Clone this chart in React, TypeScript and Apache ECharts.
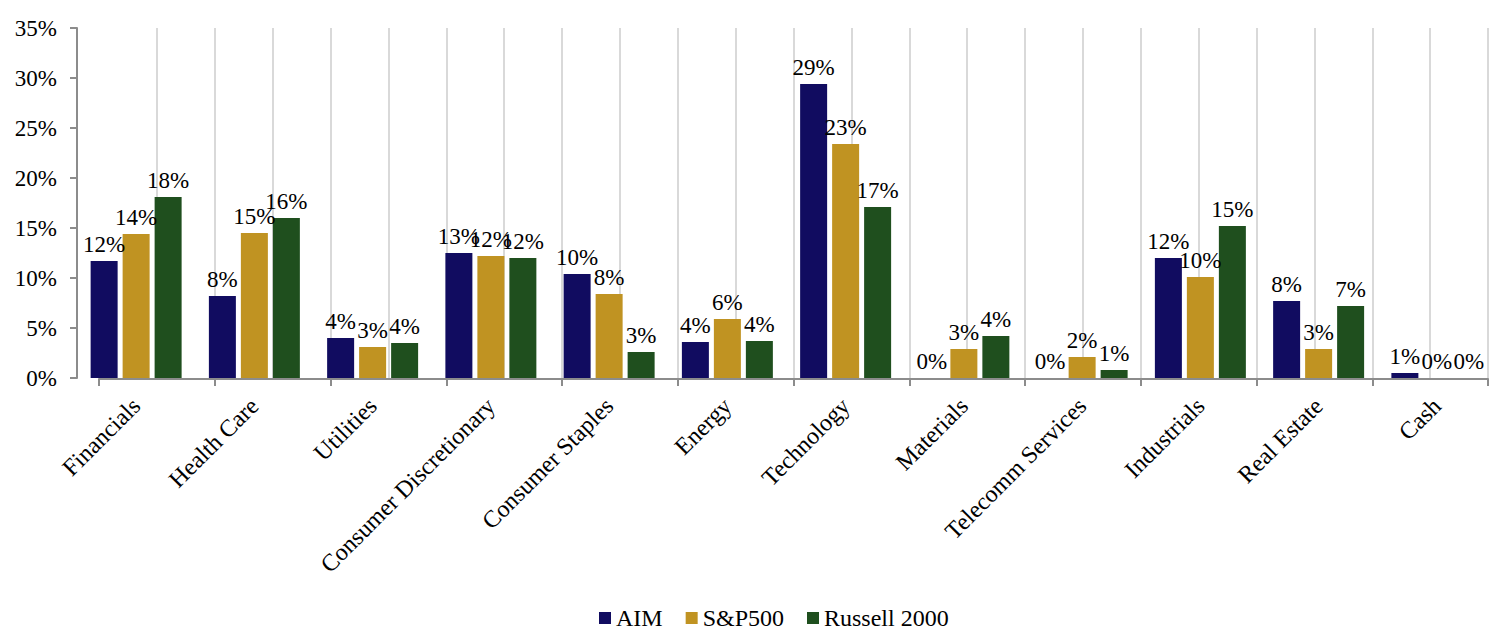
import React, { useEffect, useRef } from "react";
import * as echarts from "echarts";

const categories = [
  "Financials",
  "Health Care",
  "Utilities",
  "Consumer Discretionary",
  "Consumer Staples",
  "Energy",
  "Technology",
  "Materials",
  "Telecomm Services",
  "Industrials",
  "Real Estate",
  "Cash",
];
const seriesNames = ["AIM", "S&P500", "Russell 2000"];
const aim = [11.7, 8.2, 4.0, 12.5, 10.4, 3.6, 29.4, 0, 0, 12.0, 7.7, 0.5];
const sp500 = [14.4, 14.5, 3.1, 12.2, 8.4, 5.9, 23.4, 2.9, 2.1, 10.1, 2.9, 0];
const russell = [18.1, 16.0, 3.5, 12.0, 2.6, 3.7, 17.1, 4.2, 0.8, 15.2, 7.2, 0];
const yTicks = { min: 0, max: 35, step: 5 };

const FONT = '"Liberation Serif", "Times New Roman", serif';
const COLORS = ["#110C60", "#C09322", "#1F4F1E"];
const AXIS_GRAY = "#8C8C8C";

export default function App() {
  const ref = useRef<HTMLDivElement>(null);
  useEffect(() => {
    if (!ref.current) return;
    const chart = echarts.init(ref.current, null, { renderer: "svg" });
    const values = [aim, sp500, russell];
    const option = {
      animation: false,
      textStyle: { fontFamily: FONT },
      grid: [
        { left: 77, top: 28, width: 1431, height: 350 },
        { left: 99, top: 28, width: 1389, height: 351 },
      ],
      xAxis: [
        {
          type: "category",
          gridIndex: 0,
          position: "bottom",
          data: categories,
          axisLine: { show: false },
          axisTick: { show: false },
          splitLine: { show: false },
          axisLabel: {
            interval: 0,
            rotate: 45,
            margin: 24,
            fontSize: 24,
            color: "#000",
            fontFamily: FONT,
          },
        },
        {
          type: "value",
          gridIndex: 1,
          position: "bottom",
          min: 0,
          max: 24,
          interval: 1,
          axisLine: { show: false },
          axisTick: { show: false },
          axisLabel: { show: false },
          splitLine: {
            show: true,
            showMinLine: false,
            lineStyle: { color: "#D9D9D9", width: 2 },
          },
        },
        {
          type: "value",
          gridIndex: 1,
          position: "bottom",
          min: 0,
          max: 12,
          interval: 1,
          axisLine: { show: true, onZero: false, lineStyle: { color: AXIS_GRAY, width: 2 } },
          axisTick: { show: true, length: 7, lineStyle: { color: AXIS_GRAY, width: 2 } },
          axisLabel: { show: false },
          splitLine: { show: false },
        },
      ],
      yAxis: [
        {
          type: "value",
          gridIndex: 0,
          min: yTicks.min,
          max: yTicks.max,
          interval: yTicks.step,
          axisLine: { show: true, lineStyle: { color: AXIS_GRAY, width: 2 } },
          axisTick: { show: true, length: 7, lineStyle: { color: AXIS_GRAY, width: 2 } },
          splitLine: { show: false },
          axisLabel: {
            formatter: "{value}%",
            fontSize: 23,
            color: "#000",
            margin: 20,
            fontFamily: FONT,
          },
        },
        { type: "value", gridIndex: 1, min: 0, max: 1, show: false },
      ],
      legend: {
        left: 594,
        top: 601,
        padding: 5,
        itemWidth: 12,
        itemHeight: 12,
        itemGap: 23,
        icon: "rect",
        data: seriesNames,
        textStyle: { fontSize: 24, lineHeight: 20, color: "#000", fontFamily: FONT },
      },
      series: seriesNames.map((name, i) => ({
        name,
        type: "bar",
        xAxisIndex: 0,
        yAxisIndex: 0,
        data: values[i],
        barWidth: 27,
        barGap: "18.5%",
        itemStyle: { color: COLORS[i] },
        label: {
          show: true,
          position: "top",
          distance: 5,
          fontSize: 23,
          color: "#000",
          fontFamily: FONT,
          formatter: (p: any) => Math.round(p.value) + "%",
        },
      })),
    };
    chart.setOption(option);
    return () => chart.dispose();
  }, []);
  return (
    <div
      ref={ref}
      style={{ position: "absolute", left: 0, top: 0, width: 1496, height: 632 }}
    />
  );
}
